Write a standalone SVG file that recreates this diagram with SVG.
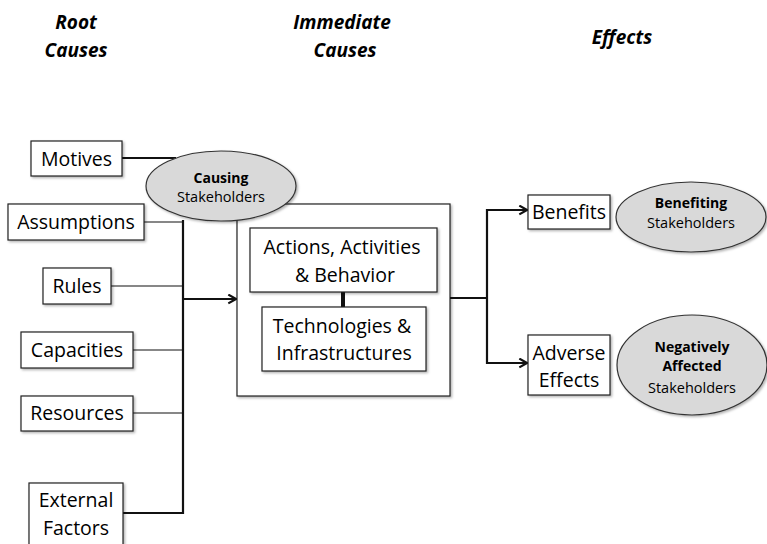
<svg xmlns="http://www.w3.org/2000/svg" width="767" height="544" viewBox="0 0 767 544">
<defs>
<style>
.box{fill:#fff;stroke:#222;stroke-width:1.2;filter:url(#sh)}
.ell{fill:#d9d9d9;stroke:#333;stroke-width:1.2;filter:url(#sh)}
.t{font-family:"Open Sans","Noto Sans",sans-serif;font-size:19.5px;fill:#000;text-anchor:middle}
.h{font-family:"Open Sans","Noto Sans",sans-serif;font-size:19px;font-weight:bold;font-style:italic;fill:#000;text-anchor:middle}
.e{font-family:"Open Sans","Noto Sans",sans-serif;font-size:14.5px;fill:#000;text-anchor:middle}
.eb{font-family:"Open Sans","Noto Sans",sans-serif;font-size:14px;font-weight:bold;fill:#000;text-anchor:middle}
.thin{stroke:#111;stroke-width:1.2;fill:none}
.thick{stroke:#111;stroke-width:2.2;fill:none}
</style>
<filter id="sh" x="-10%" y="-10%" width="130%" height="140%">
<feDropShadow dx="1.5" dy="1.5" stdDeviation="1" flood-color="#000" flood-opacity="0.3"/>
</filter>
<marker id="ar" viewBox="0 0 10 10" refX="9" refY="5" markerWidth="5" markerHeight="5" orient="auto" markerUnits="strokeWidth">
<path d="M2,1 L9,5 L2,9" fill="none" stroke="#111" stroke-width="2"/>
</marker>
</defs>

<g id="headers">
<text class="h" x="76" y="29">Root</text>
<text class="h" x="76" y="57">Causes</text>
<text class="h" x="342" y="29">Immediate</text>
<text class="h" x="345" y="57">Causes</text>
<text class="h" x="622" y="44">Effects</text>
</g>

<g id="immediate"><rect class="box" x="237" y="204" width="213" height="192"/></g>

<g id="connectors">
<line class="thick" x1="122" y1="158" x2="176" y2="158"/>
<line class="thin" x1="144" y1="222" x2="183" y2="222"/>
<line class="thin" x1="111" y1="286" x2="183" y2="286"/>
<line class="thin" x1="133" y1="350" x2="183" y2="350"/>
<line class="thin" x1="133" y1="413" x2="183" y2="413"/>
<polyline class="thick" points="123,513 183,513 183,220"/>
<line class="thick" x1="183" y1="299" x2="236" y2="299" marker-end="url(#ar)"/>
<line stroke="#111" stroke-width="4" x1="343" y1="292" x2="343" y2="307"/>
<line class="thick" x1="450" y1="298" x2="487" y2="298"/>
<polyline class="thick" points="527,210 487,210 487,363 527,363" marker-end="url(#ar)"/>
<line class="thick" x1="487" y1="210" x2="527" y2="210" marker-end="url(#ar)"/>
</g>

<g id="motives"><rect class="box" x="31" y="141" width="91" height="35"/><text class="t" x="76.5" y="166">Motives</text></g>
<g id="causing"><ellipse class="ell" cx="221" cy="186" rx="75" ry="35"/><text class="eb" x="221" y="183">Causing</text><text class="e" x="221" y="202">Stakeholders</text></g>
<g id="assumptions"><rect class="box" x="8" y="204" width="136" height="36"/><text class="t" x="76" y="229">Assumptions</text></g>
<g id="rules"><rect class="box" x="43" y="268" width="68" height="36"/><text class="t" x="77" y="293">Rules</text></g>
<g id="capacities"><rect class="box" x="21" y="332" width="112" height="36"/><text class="t" x="77" y="357">Capacities</text></g>
<g id="resources"><rect class="box" x="21" y="396" width="112" height="35"/><text class="t" x="77" y="420">Resources</text></g>
<g id="external"><rect class="box" x="29" y="483" width="94" height="75"/><text class="t" x="76" y="507">External</text><text class="t" x="76" y="535">Factors</text></g>

<g id="actions"><rect class="box" x="250" y="228" width="187" height="64"/><text class="t" x="342" y="254">Actions, Activities</text><text class="t" x="345" y="282">&amp; Behavior</text></g>
<g id="tech"><rect class="box" x="262" y="307" width="164" height="64"/><text class="t" x="342" y="333">Technologies &amp;</text><text class="t" x="344" y="360">Infrastructures</text></g>

<g id="benefits"><rect class="box" x="528" y="195" width="82" height="34"/><text class="t" x="569" y="219">Benefits</text></g>
<g id="benefiting"><ellipse class="ell" cx="691" cy="217" rx="75" ry="35"/><text class="eb" x="691" y="208">Benefiting</text><text class="e" x="691" y="228">Stakeholders</text></g>
<g id="adverse"><rect class="box" x="528" y="335" width="82" height="60"/><text class="t" x="569" y="360">Adverse</text><text class="t" x="569" y="387">Effects</text></g>
<g id="negative"><ellipse class="ell" cx="692" cy="365" rx="75" ry="50"/><text class="eb" x="692" y="352">Negatively</text><text class="eb" x="692" y="371">Affected</text><text class="e" x="692" y="393">Stakeholders</text></g>
</svg>
